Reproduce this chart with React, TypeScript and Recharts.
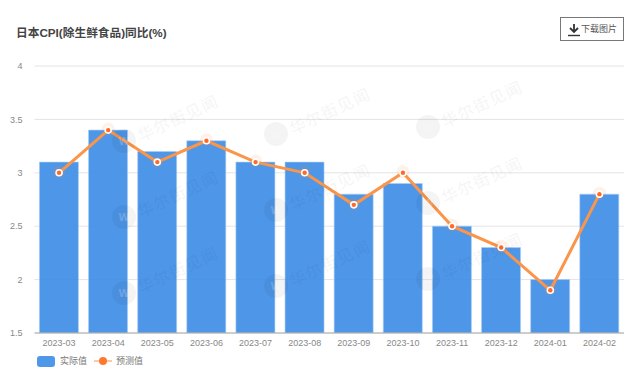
import { Bar, CartesianGrid, ComposedChart, Line, XAxis, YAxis } from 'recharts';

const months = ['2023-03', '2023-04', '2023-05', '2023-06', '2023-07', '2023-08', '2023-09', '2023-10', '2023-11', '2023-12', '2024-01', '2024-02'];
const actual = [3.1, 3.4, 3.2, 3.3, 3.1, 3.1, 2.8, 2.9, 2.5, 2.3, 2.0, 2.8];
const forecast = [3.0, 3.4, 3.1, 3.3, 3.1, 3.0, 2.7, 3.0, 2.5, 2.3, 1.9, 2.8];
const yTicks = [1.5, 2, 2.5, 3, 3.5, 4];

const rows = months.map((month, i) => ({ month, actual: actual[i], forecast: forecast[i] }));

const FONT = '"Liberation Sans", "Noto Sans CJK SC", sans-serif';

// logo centres of the repeated watermark
const marks = [
  [124, 141], [276, 134], [428, 127],
  [124, 217], [276, 210], [428, 203],
  [124, 293], [276, 286], [428, 279],
];

function ForecastDot({ cx, cy }: any) {
  return (
    <g>
      <circle cx={cx} cy={cy - 1} r={6.5} fill="#ff8a3c" opacity={0.12} />
      <circle cx={cx} cy={cy} r={3.8} fill="#fff" />
      <circle cx={cx} cy={cy} r={2.2} fill="#ff6a26" />
    </g>
  );
}

function Watermark() {
  return (
    <svg width={640} height={378} style={{ position: 'absolute', left: 0, top: 0, pointerEvents: 'none' }}>
      {marks.map(([x, y]) => (
        <g key={`${x}-${y}`}>
          <circle cx={x} cy={y} r={12} fill="#000" opacity={0.045} />
          <text x={x} y={y + 4} textAnchor="middle" fontSize={11} fontWeight="bold" fill="#fff" opacity={0.2} fontFamily={FONT}>W</text>
          <text
            x={x + 17}
            y={y + 1}
            transform={`rotate(-25 ${x + 17} ${y + 1})`}
            fontSize={16}
            letterSpacing={1.5}
            fill="#000"
            opacity={0.035}
            fontFamily='"Noto Sans CJK SC", sans-serif'
          >
            华尔街见闻
          </text>
        </g>
      ))}
    </svg>
  );
}

export default function App() {
  return (
    <div style={{ position: 'absolute', left: 0, top: 0, width: 640, height: 378, background: '#fff', fontFamily: FONT, overflow: 'hidden' }}>
      <div style={{ position: 'absolute', left: 16, top: 25, fontSize: 11.7, lineHeight: '16px', fontWeight: 'bold', color: '#444' }}>
        日本CPI(除生鲜食品)同比(%)
      </div>

      <div style={{ position: 'absolute', left: 560, top: 17, width: 62, height: 22, border: '1px solid #777', color: '#555', fontSize: 9, lineHeight: '22px' }}>
        <svg width={14} height={14} style={{ position: 'absolute', left: 6, top: 5 }}>
          <path d="M7 1 V8 M3 5 L7 9 L11 5" stroke="#333" strokeWidth={1.8} fill="none" />
          <path d="M1 12.5 H13" stroke="#333" strokeWidth={1.4} />
        </svg>
        <span style={{ position: 'absolute', left: 20 }}>下载图片</span>
      </div>

      <div style={{ position: 'absolute', left: 0, top: 0 }}>
        <ComposedChart
          width={640}
          height={378}
          data={rows}
          barCategoryGap="10%"
          margin={{ top: 66, right: 16, bottom: 20, left: 0 }}
        >
          <CartesianGrid vertical={false} stroke="#e4e4e4" strokeWidth={1} />
          <XAxis
            dataKey="month"
            height={25}
            interval={0}
            tickLine={false}
            axisLine={{ stroke: '#aaa' }}
            tick={{ fill: '#888', fontSize: 9, fontFamily: FONT }}
            tickMargin={1}
          />
          <YAxis
            type="number"
            domain={[1.5, 4]}
            ticks={yTicks}
            width={34.5}
            tickLine={false}
            axisLine={false}
            allowDataOverflow
            tick={{ fill: '#888', fontSize: 9, fontFamily: FONT }}
            tickMargin={6}
          />
          <Bar dataKey="actual" fill="#3f8de6" fillOpacity={0.92} stroke="#a9cdf5" strokeWidth={0.6} isAnimationActive={false} />
          <Line
            dataKey="forecast"
            stroke="#fb9549"
            strokeWidth={3}
            dot={<ForecastDot />}
            activeDot={false}
            isAnimationActive={false}
          />
        </ComposedChart>
      </div>

      <Watermark />

      <div style={{ position: 'absolute', left: 37, top: 356, width: 18, height: 11, borderRadius: 3, background: '#4f97e8' }} />
      <div style={{ position: 'absolute', left: 60, top: 355, fontSize: 9, lineHeight: '13px', color: '#777' }}>实际值</div>
      <svg width={20} height={12} style={{ position: 'absolute', left: 93, top: 355 }}>
        <path d="M1 6 H19" stroke="#fb9549" strokeWidth={1} />
        <circle cx={10} cy={6} r={4} fill="#ff7a30" />
      </svg>
      <div style={{ position: 'absolute', left: 116, top: 355, fontSize: 9, lineHeight: '13px', color: '#777' }}>预测值</div>
    </div>
  );
}
